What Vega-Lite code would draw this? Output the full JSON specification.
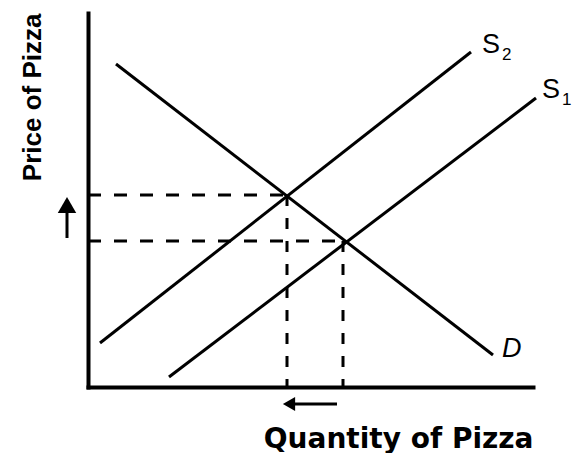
{
  "$schema": "https://vega.github.io/schema/vega-lite/v6.json",
  "width": 445,
  "height": 374,
  "autosize": "none",
  "padding": {"left": 88, "top": 13, "right": 43, "bottom": 66},
  "background": "white",
  "config": {"view": {"stroke": null}, "font": "Liberation Sans"},
  "datasets": {
    "curves": [
      {"curve": "D", "q": 28, "p": 323, "ord": 0},
      {"curve": "D", "q": 405, "p": 32, "ord": 1},
      {"curve": "S2", "q": 12, "p": 44, "ord": 0},
      {"curve": "S2", "q": 383, "p": 335, "ord": 1},
      {"curve": "S1", "q": 81, "p": 10, "ord": 0},
      {"curve": "S1", "q": 448, "p": 289, "ord": 1}
    ],
    "equilibria": [
      {"eq": "new", "q": 199, "p": 192, "origin": 0},
      {"eq": "old", "q": 255, "p": 146, "origin": 0}
    ],
    "priceArrow": [{"q": -21, "p": 149, "p2": 182}],
    "priceHead": [{"q": -21, "p": 182}],
    "qtyArrow": [{"q": 201, "q2": 249, "p": -17}],
    "qtyHead": [{"q": 201, "p": -17}],
    "demandLabel": [{"q": 414, "p": 30, "label": "D"}],
    "supplyLabel": [
      {"q": 394, "p": 334, "label": "S"},
      {"q": 454, "p": 289, "label": "S"}
    ],
    "supplySub": [
      {"q": 414, "p": 327, "label": "2"},
      {"q": 474, "p": 282, "label": "1"}
    ]
  },
  "layer": [
    {
      "data": {"name": "curves"},
      "mark": {"type": "line", "color": "black", "strokeWidth": 3},
      "encoding": {
        "x": {
          "field": "q", "type": "quantitative",
          "scale": {"domain": [0, 445], "nice": false, "zero": false},
          "axis": {
            "title": "Quantity of Pizza", "labels": false, "ticks": false, "grid": false,
            "domainWidth": 4, "domainColor": "black", "domainCap": "square",
            "titleAnchor": "end", "titleFont": "DejaVu Sans", "titleFontSize": 28,
            "titleFontWeight": "bold", "titleBaseline": "alphabetic", "titlePadding": 60,
            "titleColor": "black"
          }
        },
        "y": {
          "field": "p", "type": "quantitative",
          "scale": {"domain": [0, 374], "nice": false, "zero": false},
          "axis": {
            "title": "Price of Pizza", "labels": false, "ticks": false, "grid": false,
            "domainWidth": 4, "domainColor": "black", "domainCap": "square",
            "titleAnchor": "end", "titleFont": "Liberation Sans", "titleFontSize": 26,
            "titleFontWeight": "bold", "titleBaseline": "alphabetic", "titlePadding": 48,
            "titleColor": "black"
          }
        },
        "detail": {"field": "curve", "type": "nominal"},
        "order": {"field": "ord", "type": "quantitative"}
      }
    },
    {
      "data": {"name": "equilibria"},
      "mark": {"type": "rule", "color": "black", "strokeWidth": 3, "strokeDash": [13, 13]},
      "encoding": {
        "x": {"field": "origin", "type": "quantitative"},
        "x2": {"field": "q"},
        "y": {"field": "p", "type": "quantitative"}
      }
    },
    {
      "data": {"name": "equilibria"},
      "mark": {"type": "rule", "color": "black", "strokeWidth": 3, "strokeDash": [11, 12]},
      "encoding": {
        "x": {"field": "q", "type": "quantitative"},
        "y": {"field": "p", "type": "quantitative"},
        "y2": {"field": "origin"}
      }
    },
    {
      "data": {"name": "priceArrow"},
      "mark": {"type": "rule", "color": "black", "strokeWidth": 3},
      "encoding": {
        "x": {"field": "q", "type": "quantitative"},
        "y": {"field": "p", "type": "quantitative"},
        "y2": {"field": "p2"}
      }
    },
    {
      "data": {"name": "priceHead"},
      "mark": {"type": "point", "shape": "triangle-up", "filled": true, "color": "black", "size": 340, "opacity": 1},
      "encoding": {
        "x": {"field": "q", "type": "quantitative"},
        "y": {"field": "p", "type": "quantitative"}
      }
    },
    {
      "data": {"name": "qtyArrow"},
      "mark": {"type": "rule", "color": "black", "strokeWidth": 3},
      "encoding": {
        "x": {"field": "q", "type": "quantitative"},
        "x2": {"field": "q2"},
        "y": {"field": "p", "type": "quantitative"}
      }
    },
    {
      "data": {"name": "qtyHead"},
      "mark": {"type": "point", "shape": "triangle-left", "filled": true, "color": "black", "size": 200, "opacity": 1},
      "encoding": {
        "x": {"field": "q", "type": "quantitative"},
        "y": {"field": "p", "type": "quantitative"}
      }
    },
    {
      "data": {"name": "demandLabel"},
      "mark": {"type": "text", "align": "left", "baseline": "alphabetic", "fontSize": 27, "fontStyle": "italic", "font": "Liberation Sans", "color": "black"},
      "encoding": {
        "x": {"field": "q", "type": "quantitative"},
        "y": {"field": "p", "type": "quantitative"},
        "text": {"field": "label", "type": "nominal"}
      }
    },
    {
      "data": {"name": "supplyLabel"},
      "mark": {"type": "text", "align": "left", "baseline": "alphabetic", "fontSize": 27, "font": "Liberation Sans", "color": "black"},
      "encoding": {
        "x": {"field": "q", "type": "quantitative"},
        "y": {"field": "p", "type": "quantitative"},
        "text": {"field": "label", "type": "nominal"}
      }
    },
    {
      "data": {"name": "supplySub"},
      "mark": {"type": "text", "align": "left", "baseline": "alphabetic", "fontSize": 17, "font": "Liberation Sans", "color": "black"},
      "encoding": {
        "x": {"field": "q", "type": "quantitative"},
        "y": {"field": "p", "type": "quantitative"},
        "text": {"field": "label", "type": "nominal"}
      }
    }
  ]
}
